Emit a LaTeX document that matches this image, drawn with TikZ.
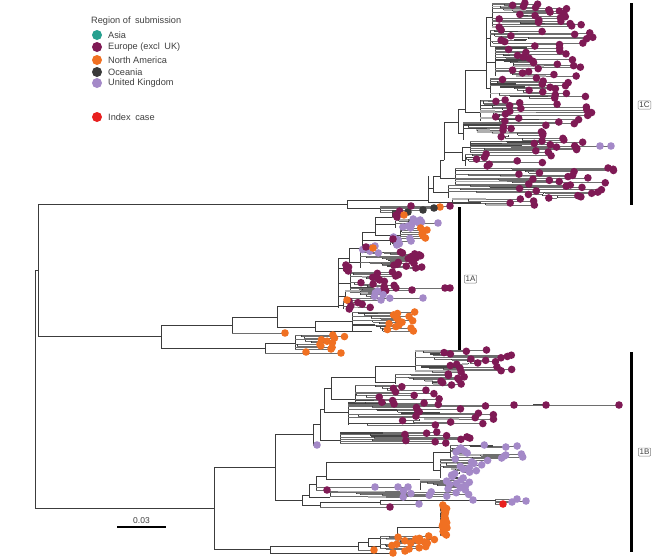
\documentclass[tikz,border=0pt]{standalone}
\usepackage{fontspec}
\setmainfont{Liberation Sans}
\definecolor{cE}{HTML}{7F1A55}
\definecolor{cN}{HTML}{F07022}
\definecolor{cU}{HTML}{A489C8}
\definecolor{cO}{HTML}{3A3A3A}
\definecolor{cA}{HTML}{27A08F}
\definecolor{cI}{HTML}{E8201F}
\definecolor{brc}{HTML}{3C3C3C}
\definecolor{tbc}{HTML}{6E6E6E}
\definecolor{gbdc}{HTML}{444444}
\definecolor{gblc}{HTML}{AFAFAF}
\definecolor{txt}{HTML}{404040}
\newif\ifdotpass
\tikzset{
  br/.style={draw=brc,line width=0.6pt},
  tb/.style={draw=tbc,line width=0.6pt},
  gbd/.style={draw=gbdc,line width=1.7pt},
  gbl/.style={draw=gblc,line width=1.7pt},
  cladebar/.style={line width=3pt,black},
  cladelab/.style={draw=gray,rounded corners=1pt,inner sep=1.3pt,fill=white,text=txt,font=\fontsize{8}{9}\selectfont},
  legtxt/.style={anchor=west,text=txt,inner sep=0pt,font=\fontsize{9.2}{11}\selectfont},
}
\def\dr{3.8pt}
% group of tips: xroot, ytop, ybot, n, xmin, xmax, colour, seed
\newcommand\grp[8]{%
 \pgfmathsetseed{#8}%
 \pgfmathsetmacro\gdy{(#3-#2)/max(#4-1,1)}%
 \xdef\pst{#1}\xdef\ptx{#6}%
 \ifdotpass\else\draw[br] (#1,#2) -- (#1,#3);\fi
 \foreach \i in {1,...,#4}{%
  \pgfmathsetmacro\yy{#2+(\i-1)*\gdy}%
  \pgfmathsetmacro\yp{\yy-\gdy}%
  \pgfmathsetmacro\tx{#5+rnd*(#6-#5)}%
  \pgfmathsetmacro\ra{rnd}%
  \pgfmathsetmacro\rb{rnd}%
  \pgfmathsetmacro\gb{rnd}%
  \pgfmathsetmacro\st{((\i==1) || (\ra<0.3)) ? #1 : (\pst+\rb*0.6*(min(\ptx,\tx)-\pst))}%
  \pgfmathsetmacro\mx{\st+0.5*(\tx-\st)}%
  \ifdotpass
   \fill[#7] (\tx,\yy) circle[radius=\dr];%
  \else
   \draw[tb] (\st,\yy) -- (\tx,\yy);%
   \ifdim\st pt>#1pt\relax \draw[br] (\st,\yp) -- (\st,\yy);\fi
   \ifdim\gb pt<0.1pt\relax \draw[gbd] (\st,\yy) -- (\mx,\yy);\else\ifdim\gb pt<0.22pt\relax \draw[gbl] (\st,\yy) -- (\mx,\yy);\fi\fi
  \fi
  \xdef\pst{\st}\xdef\ptx{\tx}%
 }%
}
\newcommand\tipp[4]{\ifdotpass\fill[#4] (#3,#2) circle[radius=\dr];\else\draw[tb] (#1,#2) -- (#3,#2);\fi}
\newcommand\dotc[3]{\ifdotpass\fill[#3] (#1,#2) circle[radius=\dr];\fi}
\newcommand\alltips{%
% ---------------- 1C groups ----------------
\grp{492}{3}{27}{22}{497}{585}{cE}{101}
\grp{490}{30}{46}{12}{500}{595}{cE}{102}
\grp{495}{48}{76}{20}{505}{582}{cE}{103}
\grp{490}{78}{98}{14}{500}{590}{cE}{104}
\grp{480}{100}{121}{16}{495}{595}{cE}{105}
\grp{463}{122}{140}{12}{495}{575}{cE}{106}
\grp{470}{141}{152}{10}{500}{585}{cE}{107}
\grp{465}{154}{166}{8}{470}{555}{cE}{108}
\grp{455}{168}{184}{14}{515}{620}{cE}{109}
\grp{448}{185}{198}{12}{515}{610}{cE}{110}
\grp{452}{199}{205}{4}{505}{560}{cE}{111}
\tipp{470}{146}{611}{cU}
\dotc{600}{146}{cU}
% small mixed group under 1C
\tipp{380}{206}{450}{cE}
\tipp{380}{207}{440}{cN}
\tipp{380}{208}{434}{cO}
\tipp{380}{210}{423}{cO}
\tipp{380}{212}{408}{cO}
\dotc{411}{206}{cE}
% ---------------- 1A groups ----------------
\grp{392}{211}{217}{4}{394}{400}{cE}{201}
\dotc{404}{215}{cN}
\grp{395}{219}{228}{10}{398}{422}{cU}{202}
\tipp{395}{223}{438}{cU}
\grp{400}{228}{238}{6}{417}{428}{cN}{203}
\grp{390}{237}{245}{7}{393}{412}{cU}{204}
\dotc{393}{239}{cE}
\grp{368}{246}{253}{5}{362}{380}{cU}{205}
\dotc{366}{247}{cE}
\dotc{373}{248}{cN}
\grp{360}{252}{268}{18}{385}{422}{cE}{206}
\grp{343}{265}{271}{4}{345}{353}{cE}{207}
\grp{350}{272}{292}{16}{360}{400}{cE}{208}
\tipp{350}{288}{450}{cE}
\dotc{445}{288}{cE}
\tipp{350}{290}{412}{cE}
\grp{345}{291}{300}{6}{365}{390}{cU}{209}
\tipp{345}{298}{423}{cU}
\grp{343}{301}{309}{6}{340}{385}{cE}{210}
\dotc{347}{300}{cN}
\grp{352}{312}{331}{14}{385}{418}{cN}{211}
\tipp{232}{333}{285}{cN}
\grp{295}{335}{349}{10}{315}{345}{cN}{212}
\tipp{265}{353}{341}{cN}
\dotc{306}{352}{cN}
% ---------------- 1B groups ----------------
\tipp{313}{445}{317}{cU}
\grp{340}{432}{443}{10}{395}{470}{cE}{301}
\grp{348}{403}{425}{16}{400}{495}{cE}{302}
\tipp{348}{405}{619}{cE}
\dotc{546}{405}{cE}
\dotc{514}{405}{cE}
\grp{355}{385}{404}{12}{368}{456}{cE}{303}
\grp{415}{350}{372}{18}{440}{512}{cE}{304}
\grp{395}{374}{384}{8}{437}{470}{cE}{305}
\tipp{320}{507}{390}{cE}
\tipp{380}{504}{419}{cU}
\dotc{473}{500}{cU}
\tipp{495}{502}{512}{cU}
\tipp{495}{499}{517}{cU}
\tipp{495}{501}{526}{cU}
\tipp{495}{504}{503}{cI}
\grp{330}{491}{497}{8}{400}{495}{cU}{306}
\tipp{316}{490}{327}{cE}
\tipp{316}{487}{408}{cU}
\dotc{375}{487}{cU}
\dotc{398}{487}{cU}
\grp{420}{480}{490}{10}{436}{470}{cU}{307}
\grp{450}{445}{458}{14}{455}{523}{cU}{308}
\grp{440}{459}{478}{14}{450}{492}{cU}{309}
% bottom orange
\grp{440}{505}{535}{18}{442}{447}{cN}{401}
\grp{380}{536}{549}{12}{385}{435}{cN}{402}
\grp{402}{539}{543}{3}{410}{420}{cN}{403}
\tipp{358}{550}{374}{cN}
\dotc{393}{553}{cN}
\dotc{405}{551}{cN}
}
\begin{document}
\begin{tikzpicture}[x=1pt,y=-1pt]
\useasboundingbox (0,0) rectangle (670,558);
\fill[white] (0,0) rectangle (670,558);
% ---------------- backbone ----------------
\draw[br]
 (35,270)--(35,508) (35,270)--(38,270) (38,204)--(38,336) (38,204)--(347,204)
 (347,200)--(347,208) (347,200)--(428,200) (347,208)--(380,208) (380,206)--(380,212)
 (428,176)--(428,202) (428,202)--(452,202) (428,188)--(433,188)
 (433,176)--(433,192) (433,192)--(448,192) (433,176)--(440,176)
 (440,160)--(440,178) (440,178)--(455,178) (440,160)--(444,160)
 (444,122)--(444,160) (444,152)--(462,152) (462,147)--(462,160) (462,147)--(470,147) (462,160)--(465,160)
 (444,122)--(458,122) (458,109)--(458,133) (458,133)--(463,133) (458,109)--(465,109)
 (465,70)--(465,112) (465,112)--(480,112) (465,70)--(486,70)
 (486,17)--(486,88) (486,88)--(490,88) (486,62)--(495,62) (486,38)--(490,38) (486,17)--(492,17)
 (38,336)--(161,336) (161,325)--(161,348)
 (161,325)--(232,325) (232,317)--(232,333) (232,317)--(277,317)
 (277,306)--(277,327) (277,327)--(315,327) (315,321)--(315,331) (315,321)--(352,321)
 (315,331)--(372,331)
 (161,348)--(265,348) (265,343)--(265,353) (265,343)--(295,343)
 (277,306)--(338,306) (338,258)--(338,308)
 (338,296)--(345,296) (338,305)--(343,305) (338,283)--(350,283) (338,268)--(343,268)
 (338,258)--(349,258) (349,248)--(349,262) (349,262)--(360,262)
 (349,248)--(362,248) (362,232)--(362,250) (362,250)--(368,250) (362,240)--(390,240)
 (362,232)--(375,232) (375,217)--(375,235) (375,235)--(400,235) (375,224)--(395,224)
 (375,217)--(392,217)
 (35,508)--(214,508) (214,467)--(214,549)
 (214,467)--(275,467) (275,434)--(275,500)
 (275,434)--(313,434) (313,424)--(313,445)
 (313,424)--(320,424) (320,409)--(320,440) (320,440)--(340,440)
 (320,409)--(324,409) (324,388)--(324,412) (324,412)--(348,412)
 (324,388)--(331,388) (331,377)--(331,399) (331,399)--(355,399)
 (331,377)--(375,377) (375,366)--(375,382) (375,366)--(415,366) (375,382)--(395,382)
 (275,500)--(302,500) (302,495)--(302,505)
 (302,505)--(320,505) (320,502)--(320,507) (320,502)--(380,502) (380,500)--(380,504)
 (380,500)--(495,500) (495,499)--(495,504)
 (302,495)--(309,495) (309,484)--(309,497) (309,497)--(330,497)
 (309,484)--(316,484) (316,476)--(316,490)
 (316,476)--(326,476) (326,462)--(326,479) (326,479)--(420,479)
 (326,462)--(433,462) (433,452)--(433,470) (433,452)--(450,452) (433,470)--(440,470)
 (214,549)--(270,549) (270,546)--(270,553)
 (270,553)--(395,553)
 (270,546)--(358,546) (358,542)--(358,550)
 (358,542)--(368,542) (368,538)--(368,546) (368,546)--(380,546)
 (368,538)--(397,538) (397,527)--(397,541) (397,527)--(440,527) (397,541)--(402,541);
\draw[gbd] (533,405)--(546,405);
% tips: lines first, then dots
\dotpassfalse
\alltips
\dotpasstrue
\alltips
% ---------------- clade bars ----------------
\draw[cladebar] (631,3)--(631,205);
\node[cladelab] (l1C) at (644.5,105) {1C};
\draw[cladebar] (459,207)--(459,350);
\node[cladelab] (l1A) at (470.5,279) {1A};
\draw[cladebar] (631,352)--(631,552);
\node[cladelab] (l1B) at (644.5,452) {1B};
% ---------------- scale bar ----------------
\draw[line width=2.5pt] (117,527)--(166,527);
\node[anchor=south,inner sep=0pt,text=txt,font=\fontsize{8.5}{9}\selectfont] (scale) at (141.5,524) {0.03};
% ---------------- legend ----------------
\node[legtxt] (ltitle) at (91,21) {Region of\hspace{2pt} submission};
\fill[cA] (97,35) circle[radius=5pt];
\node[legtxt] (lA) at (108,35) {Asia};
\fill[cE] (97,47) circle[radius=5pt];
\node[legtxt] (lE) at (108,47) {Europe (excl\hspace{2pt} UK)};
\fill[cN] (97,60) circle[radius=5pt];
\node[legtxt] (lN) at (108,60) {North America};
\fill[cO] (97,72) circle[radius=5pt];
\node[legtxt] (lO) at (108,72) {Oceania};
\fill[cU] (97,83) circle[radius=5pt];
\node[legtxt] (lU) at (108,83) {United Kingdom};
\fill[cI] (97,117) circle[radius=5pt];
\node[legtxt] (lI) at (108,117) {Index\hspace{2pt} case};
\end{tikzpicture}
\end{document}
